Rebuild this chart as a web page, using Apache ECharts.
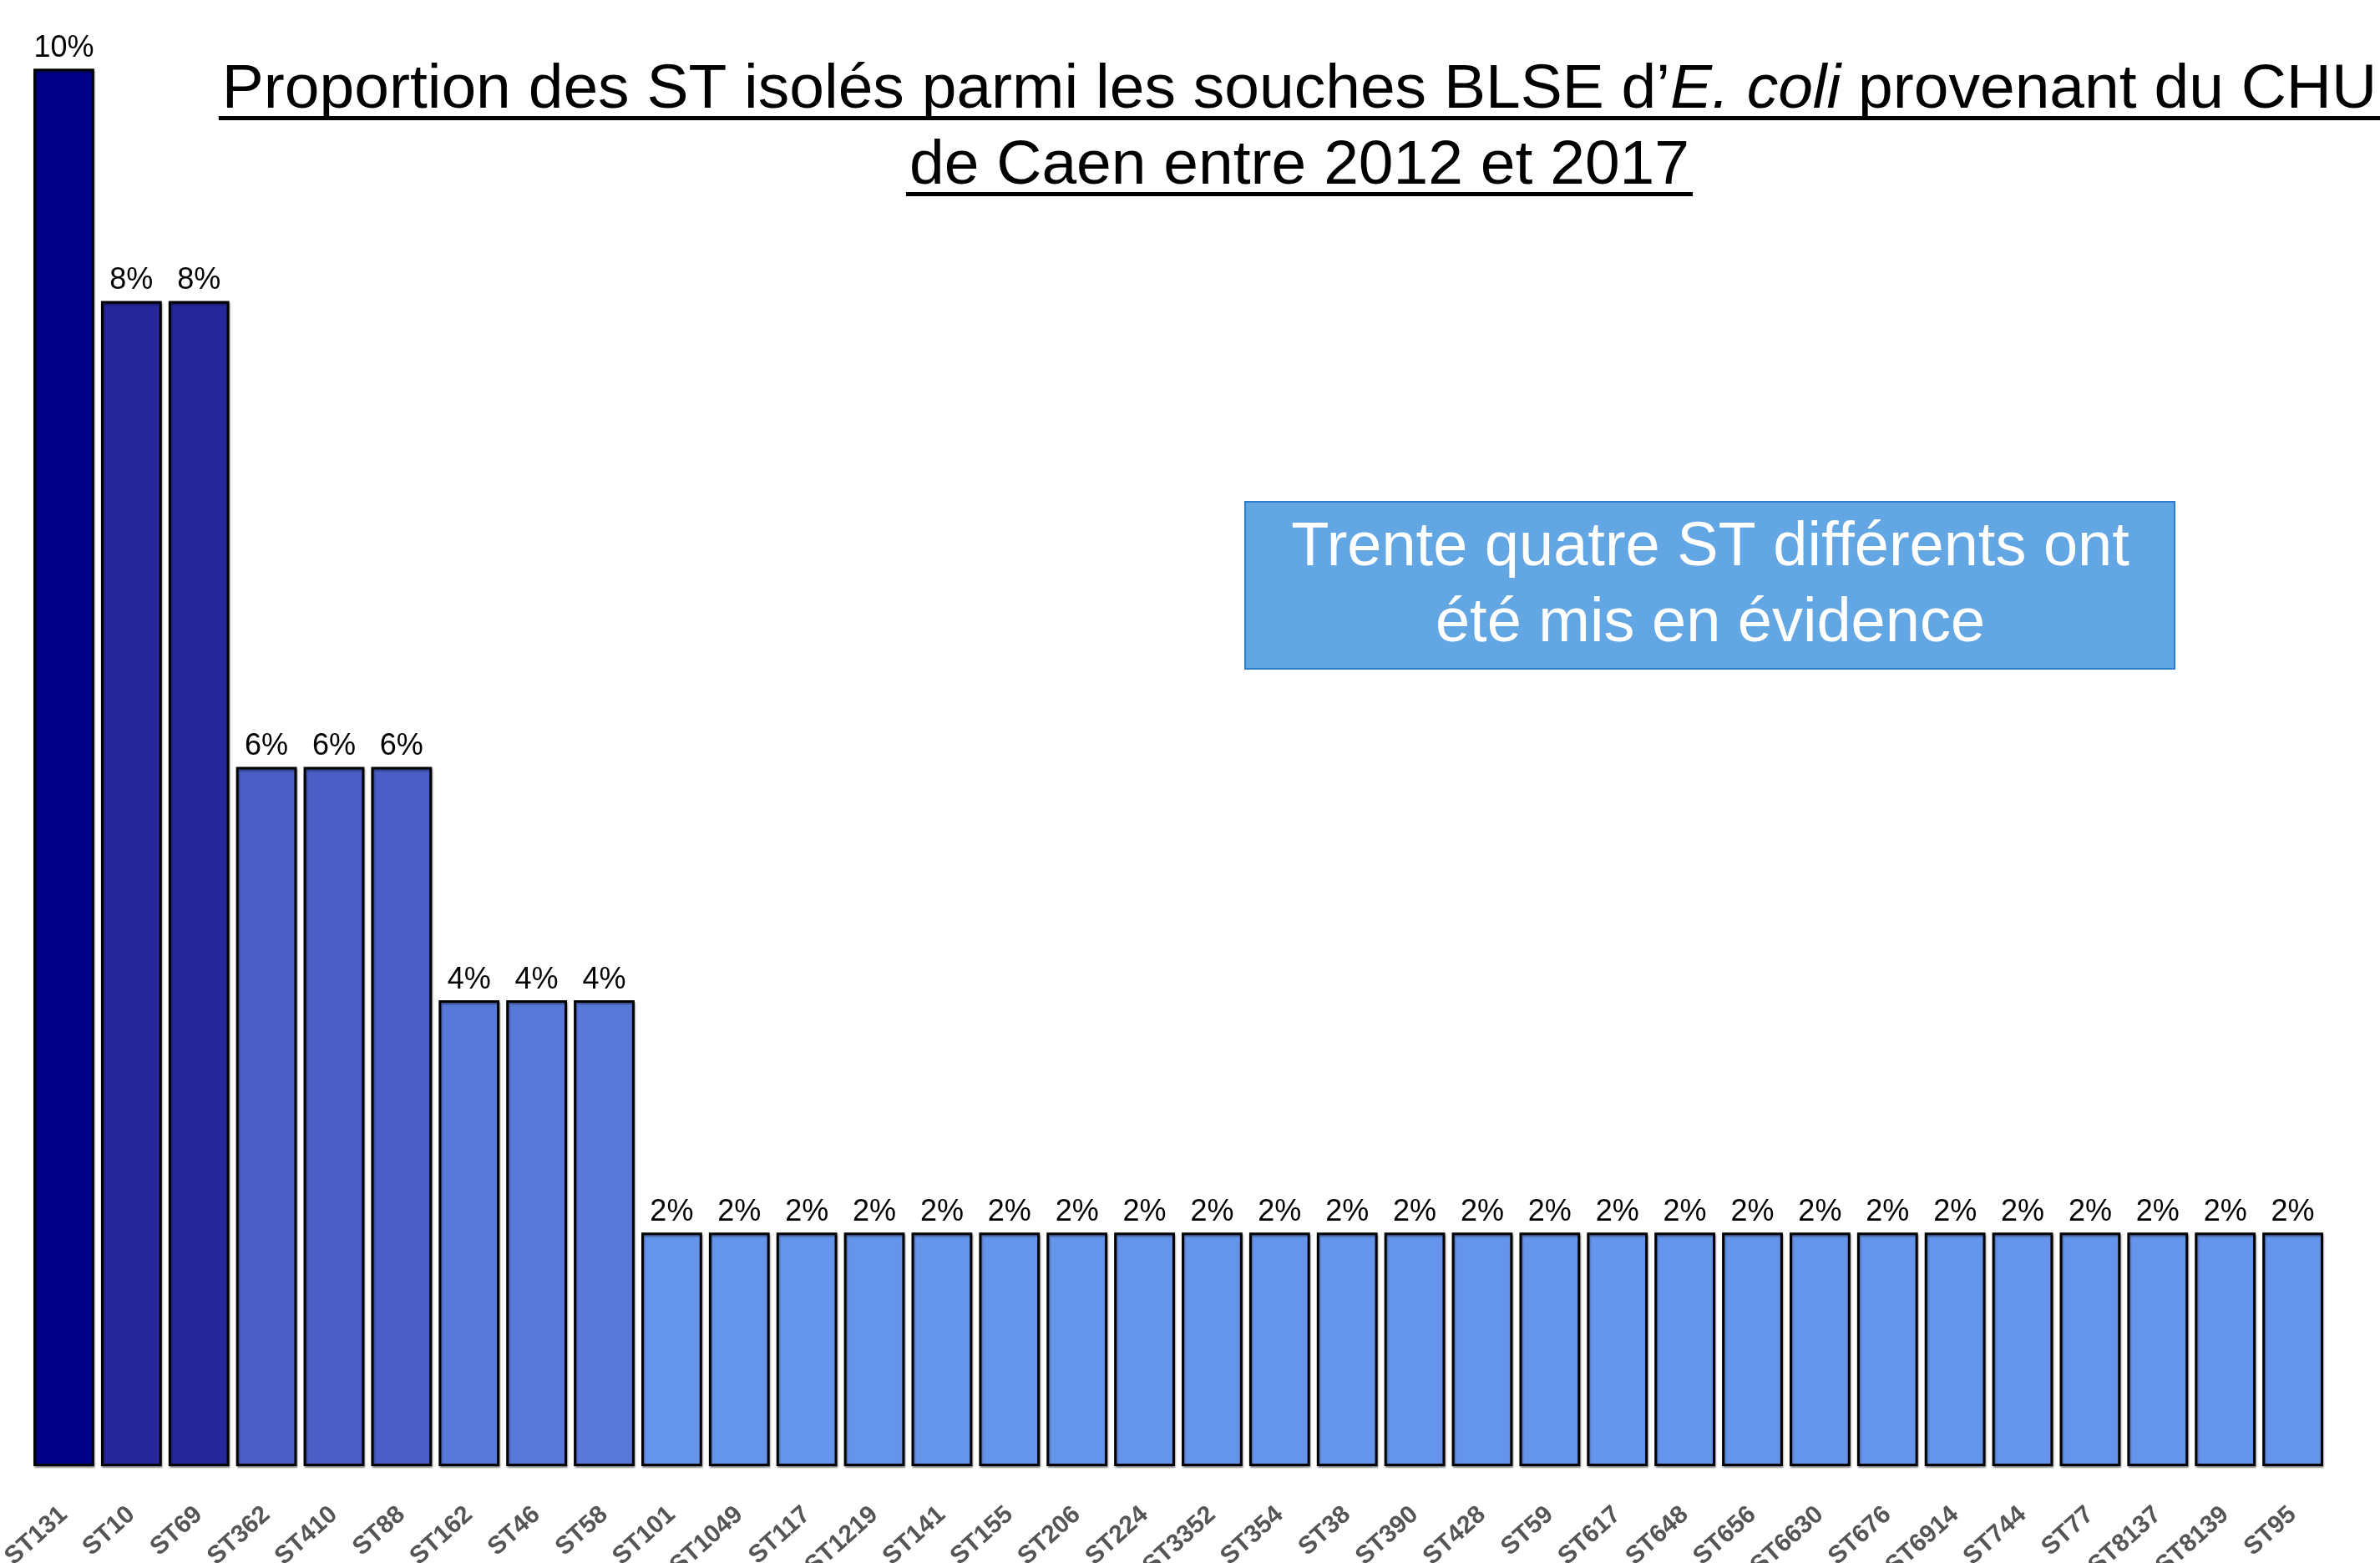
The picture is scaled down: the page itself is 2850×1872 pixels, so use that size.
<!DOCTYPE html>
<html>
<head>
<meta charset="utf-8">
<script src="https://cdn.jsdelivr.net/npm/echarts@6/dist/echarts.min.js"></script>
<style>
  html, body { margin: 0; padding: 0; background: #fff; }
  #chart { width: 2850px; height: 1872px; }
</style>
</head>
<body>
<div id="chart"></div>
<script>
// sequence types, in the order of the bars
const categories = [
  'ST131', 'ST10', 'ST69', 'ST362', 'ST410', 'ST88', 'ST162', 'ST46', 'ST58',
  'ST101', 'ST1049', 'ST117', 'ST1219', 'ST141', 'ST155', 'ST206', 'ST224',
  'ST3352', 'ST354', 'ST38', 'ST390', 'ST428', 'ST59', 'ST617', 'ST648',
  'ST656', 'ST6630', 'ST676', 'ST6914', 'ST744', 'ST77', 'ST8137', 'ST8139', 'ST95'
]

// bar heights (% of strains)
const shares = [
  10.71, 8.93, 8.93, 5.36, 5.36, 5.36, 3.57, 3.57, 3.57,
  1.79, 1.79, 1.79, 1.79, 1.79, 1.79, 1.79, 1.79,
  1.79, 1.79, 1.79, 1.79, 1.79, 1.79, 1.79, 1.79,
  1.79, 1.79, 1.79, 1.79, 1.79, 1.79, 1.79, 1.79, 1.79
]

// labels printed above the bars
const shareLabels = [
  '10%', '8%', '8%', '6%', '6%', '6%', '4%', '4%', '4%',
  '2%', '2%', '2%', '2%', '2%', '2%', '2%', '2%',
  '2%', '2%', '2%', '2%', '2%', '2%', '2%', '2%',
  '2%', '2%', '2%', '2%', '2%', '2%', '2%', '2%', '2%'
]

const titleLines = ['Proportion des ST isolés parmi les souches BLSE d’', 'E. coli', ' provenant du CHU']
const titleLine2 = 'de Caen entre 2012 et 2017'
const noteText = 'Trente quatre ST différents ont\nété mis en évidence'

const groupColors = {
  '10%': '#000088',
  '8%': '#27279c',
  '6%': '#4a5ec6',
  '4%': '#5879da',
  '2%': '#6594eb'
}

const FONT = '"Liberation Sans", Arial, Helvetica, sans-serif'
const titleSize = 75

const measure = (text, style) => {
  const ctx = document.createElement('canvas').getContext('2d')
  ctx.font = style + ' ' + titleSize + 'px ' + FONT
  return ctx.measureText(text).width
}

const line1Width = measure(titleLines[0], 'normal') + measure(titleLines[1], 'italic') + measure(titleLines[2], 'normal')
const line2Width = measure(titleLine2, 'normal')
const titleX = 1556

const chart = echarts.init(document.getElementById('chart'))

chart.setOption({
  backgroundColor: '#fff',
  animation: false,
  textStyle: { fontFamily: FONT },
  grid: {
    left: 36,
    right: 64,
    top: 37,
    bottom: 116,
    containLabel: false,
    outerBoundsMode: 'none'
  },
  xAxis: {
    type: 'category',
    data: categories,
    axisLine: { show: false },
    axisTick: { show: false },
    axisLabel: {
      interval: 0,
      rotate: 42,
      margin: 54,
      fontSize: 30,
      fontWeight: 'bold',
      color: '#555555',
      fontFamily: FONT
    }
  },
  yAxis: {
    type: 'value',
    min: 0,
    max: 11,
    show: false,
    splitLine: { show: false }
  },
  series: [{
    type: 'bar',
    barCategoryGap: '10%',
    data: shares.map((v, i) => ({
      value: v,
      itemStyle: { color: groupColors[shareLabels[i]] }
    })),
    itemStyle: {
      borderColor: '#000',
      borderWidth: 3,
      shadowColor: 'rgba(0, 0, 0, 0.35)',
      shadowBlur: 2,
      shadowOffsetX: 1,
      shadowOffsetY: 2
    },
    label: {
      show: true,
      position: 'top',
      distance: 6,
      fontSize: 36,
      color: '#000',
      fontFamily: FONT,
      formatter: (p) => shareLabels[p.dataIndex]
    }
  }],
  graphic: [
    {
      type: 'text',
      x: titleX,
      y: 108,
      style: {
        text: '{n|' + titleLines[0] + '}{i|' + titleLines[1] + '}{n|' + titleLines[2] + '}',
        align: 'center',
        verticalAlign: 'middle',
        rich: {
          n: { fontSize: titleSize, fontFamily: FONT, fill: '#000' },
          i: { fontSize: titleSize, fontFamily: FONT, fontStyle: 'italic', fill: '#000' }
        }
      }
    },
    {
      type: 'line',
      shape: { x1: titleX - line1Width / 2 - 4, y1: 141.5, x2: titleX + line1Width / 2 + 4, y2: 141.5 },
      style: { stroke: '#000', lineWidth: 5 }
    },
    {
      type: 'text',
      x: titleX,
      y: 199,
      style: {
        text: titleLine2,
        align: 'center',
        verticalAlign: 'middle',
        fontSize: titleSize,
        fontFamily: FONT,
        fill: '#000'
      }
    },
    {
      type: 'line',
      shape: { x1: titleX - line2Width / 2 - 4, y1: 232.5, x2: titleX + line2Width / 2 + 4, y2: 232.5 },
      style: { stroke: '#000', lineWidth: 5 }
    },
    {
      type: 'rect',
      shape: { x: 1491, y: 601, width: 1113, height: 200 },
      style: { fill: '#63a6e4', stroke: '#2d7dcc', lineWidth: 2 }
    },
    {
      type: 'text',
      x: 2048,
      y: 702,
      style: {
        text: noteText,
        align: 'center',
        verticalAlign: 'middle',
        fontSize: 74,
        lineHeight: 91,
        fontFamily: FONT,
        fill: '#fff'
      }
    }
  ]
})

window.addEventListener('resize', () => chart.resize())
</script>
</body>
</html>
